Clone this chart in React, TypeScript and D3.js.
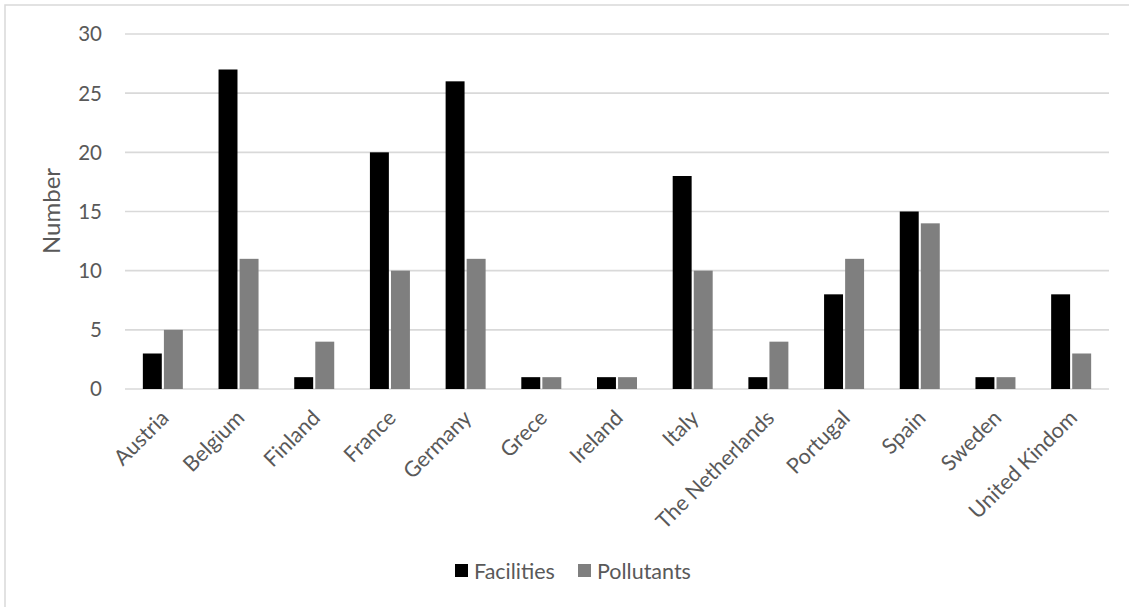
import React from "react";
import * as d3 from "d3";

const countries = [
  "Austria",
  "Belgium",
  "Finland",
  "France",
  "Germany",
  "Grece",
  "Ireland",
  "Italy",
  "The Netherlands",
  "Portugal",
  "Spain",
  "Sweden",
  "United Kindom",
];
const facilities = [3, 27, 1, 20, 26, 1, 1, 18, 1, 8, 15, 1, 8];
const pollutants = [5, 11, 4, 10, 11, 1, 1, 10, 4, 11, 14, 1, 3];
const seriesNames = ["Facilities", "Pollutants"];
const seriesColors = ["#000000", "#7f7f7f"];
const yTicks = [0, 5, 10, 15, 20, 25, 30];

const W = 1129;
const H = 607;
const plot = { left: 125, right: 1109, top: 34, bottom: 389 };
const FONT = "Lato, 'Open Sans', sans-serif";
const TEXT = "#595959";
const GRID = "#d9d9d9";

export default function App() {
  const x = d3
    .scaleBand<string>()
    .domain(countries)
    .range([plot.left, plot.right])
    .paddingInner(0)
    .paddingOuter(0);
  const y = d3.scaleLinear().domain([0, 30]).range([plot.bottom, plot.top]);
  const group = 40;
  const xs = d3
    .scaleBand<string>()
    .domain(seriesNames)
    .range([-group / 2, group / 2])
    .paddingInner(0.1);
  const series = [facilities, pollutants];

  return (
    <svg
      width={W}
      height={H}
      style={{ position: "fixed", left: 0, top: 0, display: "block", background: "#fff" }}
    >
      <rect x={5} y={5} width={W + 10} height={H + 10} fill="#fff" stroke={GRID} strokeWidth={1.5} />
      {yTicks.map((t) => (
        <g key={t}>
          <line x1={plot.left} x2={plot.right} y1={y(t)} y2={y(t)} stroke={GRID} strokeWidth={1.6} />
          <text
            x={102}
            y={y(t)}
            dy="0.36em"
            textAnchor="end"
            fontFamily={FONT}
            fontSize={20.5}
            fill={TEXT}
          >
            {t}
          </text>
        </g>
      ))}
      <text
        transform={`translate(60,211) rotate(-90)`}
        textAnchor="middle"
        fontFamily={FONT}
        fontSize={24}
        fill={TEXT}
      >
        Number
      </text>
      {countries.map((c, i) => {
        const cx = (x(c) as number) + x.bandwidth() / 2;
        return (
          <g key={c}>
            {series.map((vals, s) => (
              <rect
                key={s}
                x={cx + (xs(seriesNames[s]) as number)}
                y={y(vals[i])}
                width={xs.bandwidth()}
                height={y(0) - y(vals[i])}
                fill={seriesColors[s]}
              />
            ))}
            <text
              transform={`translate(${cx + 2},${plot.bottom + 25}) rotate(-45)`}
              textAnchor="end"
              dy="0.35em"
              fontFamily={FONT}
              fontSize={21.5}
              fill={TEXT}
            >
              {c}
            </text>
          </g>
        );
      })}
      {seriesNames.map((n, s) => {
        const lx = s === 0 ? 455 : 578;
        return (
          <g key={n}>
            <rect x={lx} y={564} width={13} height={13} fill={seriesColors[s]} />
            <text x={lx + 19} y={571} dy="0.36em" fontFamily={FONT} fontSize={21.5} fill={TEXT}>
              {n}
            </text>
          </g>
        );
      })}
    </svg>
  );
}
